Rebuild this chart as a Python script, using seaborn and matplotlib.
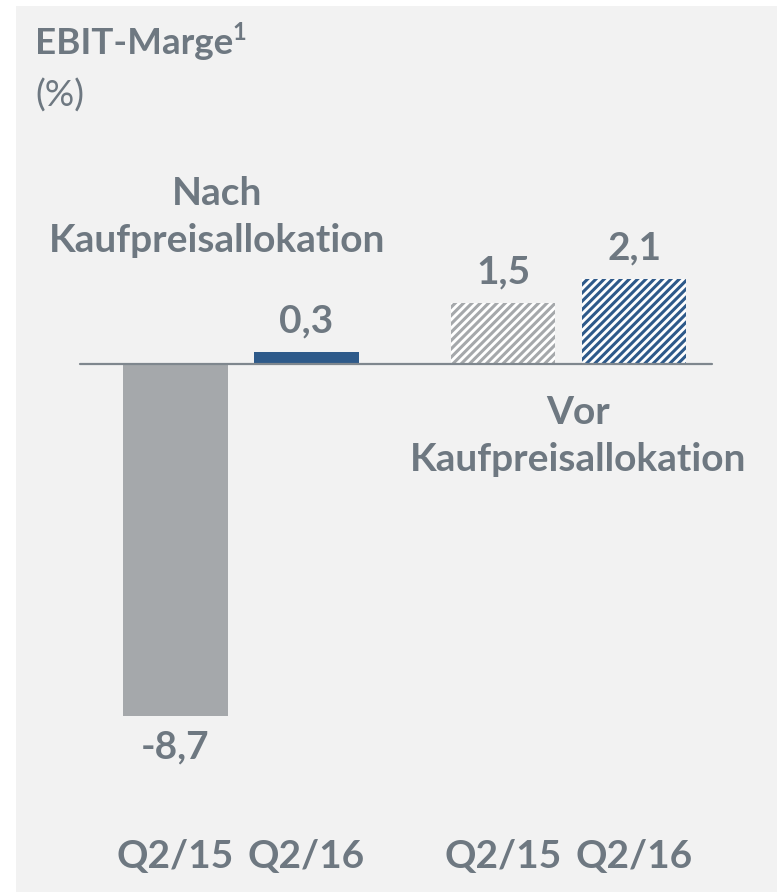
import matplotlib
matplotlib.use("Agg")
import matplotlib.pyplot as plt
import matplotlib.patches as mpatches
import pandas as pd
import seaborn as sns

groups = ["Nach\nKaufpreisallokation", "Vor\nKaufpreisallokation"]
quarters = ["Q2/15", "Q2/16"]
values = {
    "Q2/15": [-8.7, 1.5],
    "Q2/16": [0.3, 2.1],
}

TEXT = "#6E7881"
GRAY = "#A5A8AB"
BLUE = "#2E5A8A"

df = pd.DataFrame({
    "group": [g for q in quarters for g in groups],
    "quarter": [q for q in quarters for _ in groups],
    "value": [v for q in quarters for v in values[q]],
})

sns.set_theme(style="white")
plt.rcParams["font.family"] = ["Lato", "DejaVu Sans"]
plt.rcParams["hatch.linewidth"] = 2.2

W, H = 777, 892
FS = 28


def fy(px):
    # figure fraction from pixel row (top origin)
    return 1 - px / H


fig = plt.figure(figsize=(W / 100, H / 100), dpi=100)
fig.patch.set_facecolor("white")
fig.add_artist(mpatches.Rectangle(
    (16 / W, 0), (W - 16) / W, (H - 6) / H,
    transform=fig.transFigure, facecolor="#F2F2F2", edgecolor="none", zorder=0
))

ax = fig.add_axes([0, 0, 1, 1])
ax.set_facecolor("none")

sns.barplot(
    data=df, x="group", y="value", hue="quarter",
    hue_order=quarters, order=groups,
    width=0.8, gap=0.2, legend=False, ax=ax, zorder=2
)

# first group solid, second group hatched
for qi, cont in enumerate(ax.containers):
    col = GRAY if qi == 0 else BLUE
    for gi, bar in enumerate(cont):
        bar.set_linewidth(0)
        if gi == 0:
            bar.set_facecolor(col)
            bar.set_edgecolor("none")
        else:
            bar.set_facecolor("white")
            bar.set_edgecolor(col)
            bar.set_hatch("////")
        v = bar.get_height()
        xc = bar.get_x() + bar.get_width() / 2
        label = f"{v:.1f}".replace(".", ",")
        off = 14 if v >= 0 else -30
        ax.annotate(label, (xc, v), xytext=(0, off), textcoords="offset points",
                    ha="center", va="baseline", fontsize=FS,
                    fontweight="bold", color=TEXT)
        ax.text(xc, fy(868), quarters[qi], transform=ax.get_xaxis_transform(),
                ha="center", va="baseline", fontsize=FS,
                fontweight="bold", color=TEXT)

ax.axhline(0, xmin=80 / W, xmax=712 / W, color="#7F878E", lw=1.6, zorder=3)

px = 327.5
ax.set_xlim(-241 / px, (W - 241) / px)
ax.set_ylim(-(H - 364) / 40.5, 364 / 40.5)
ax.set_xlabel("")
ax.set_ylabel("")
ax.set_xticks([])
ax.set_yticks([])
for s in ax.spines.values():
    s.set_visible(False)

# group labels
for lines, xc, y1, y2 in [(groups[0], 217, 205, 252), (groups[1], 578, 424, 471)]:
    top, bottom = lines.split("\n")
    fig.text(xc / W, fy(y1), top, ha="center", va="baseline",
             fontsize=FS, fontweight="bold", color=TEXT)
    fig.text(xc / W, fy(y2), bottom, ha="center", va="baseline",
             fontsize=FS, fontweight="bold", color=TEXT)

# title
fig.text(35 / W, fy(54), "EBIT-Marge", ha="left", va="baseline",
         fontsize=26.5, fontweight="bold", color=TEXT)
fig.text(232 / W, fy(40), "1", ha="left", va="baseline",
         fontsize=17, fontweight="bold", color=TEXT)
fig.text(35 / W, fy(107), "(%)", ha="left", va="baseline",
         fontsize=26.5, color=TEXT)

fig.savefig("out.png", dpi=100)
